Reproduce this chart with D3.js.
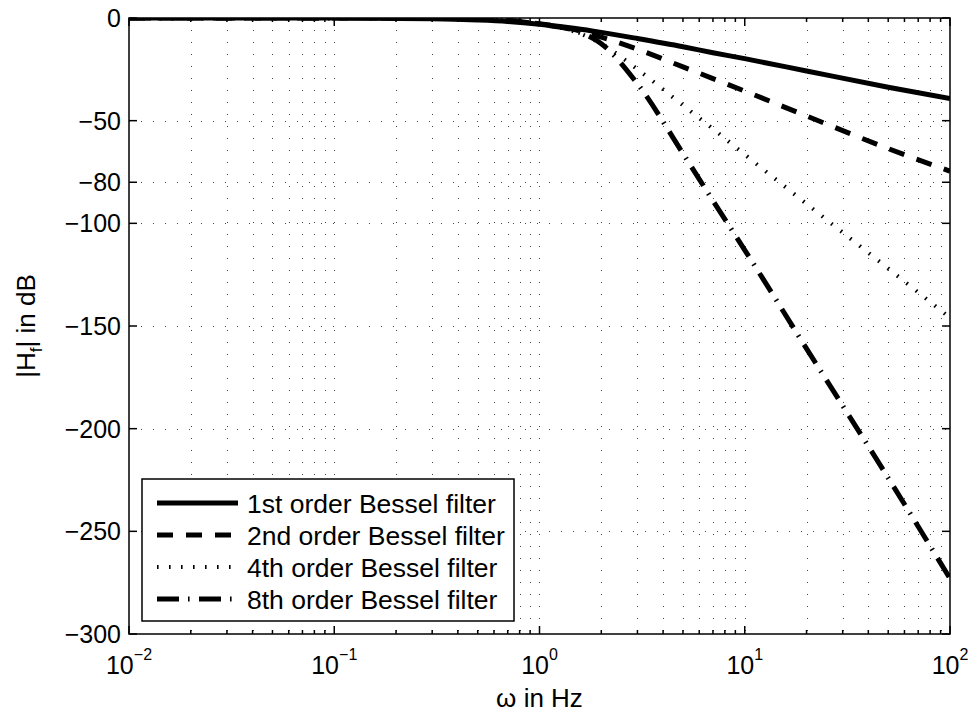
<!DOCTYPE html>
<html>
<head>
<meta charset="utf-8">
<script src="https://cdn.jsdelivr.net/npm/d3@7"></script>
<style>
    body { margin: 0; padding: 0; background: #fff; }
    svg { font-family: "Liberation Sans", Arial, Helvetica, sans-serif; }
</style>
</head>
<body>
<div id="chart"></div>
<script>
var freq   = [0.01, 0.1, 0.3, 0.5, 0.7, 1, 1.5, 2, 3, 5, 7, 10, 20, 50, 100];
// magnitude in dB
var order1 = [0, -0.04, -0.4, -1.0, -1.7, -3.0, -5.1, -7.0, -10.0, -14.0, -16.9, -19.8, -25.8, -33.7, -39.2];
var order2 = [0, -0.01, -0.15, -0.6, -1.3, -2.8, -5.8, -9.3, -15.2, -23.8, -29.5, -35.6, -47.7, -63.6, -74.6];
var order4 = [0, 0, -0.1, -0.5, -1.2, -3.0, -6.8, -12.5, -25.0, -42.5, -54.0, -66.5, -90.5, -122.0, -146.0];
var order8 = [0, 0, -0.05, -0.4, -1.1, -3.0, -6.3, -12.5, -32.0, -66.0, -89.0, -113.0, -161.0, -224.0, -273.0];

var seriesNames = ["1st order Bessel filter", "2nd order Bessel filter",
                   "4th order Bessel filter", "8th order Bessel filter"];
var yTicks = [0, -50, -80, -100, -150, -200, -250, -300];
var xTickExponents = [-2, -1, 0, 1, 2];

var W = 974, H = 715;
var PLOT = { left: 129, right: 950, top: 18, bottom: 634 };

var LINE_STYLES = [
    { width: 5, dash: null },
    { width: 5, dash: "16,13" },
    { width: 4, dash: "1.6,10.4" },
    { width: 5, dash: "22,9,1.6,9.4" }
];

var svg = d3.select("#chart").append("svg")
    .attr("width", W)
    .attr("height", H);

var x = d3.scaleLog().domain([1e-2, 1e2]).range([PLOT.left, PLOT.right]);
var y = d3.scaleLinear().domain([-300, 0]).range([PLOT.bottom, PLOT.top]);

// all log ticks (1..9 per decade)
var logTicks = x.ticks();
var isMajor = function(v) {
    var e = Math.log10(v);
    return Math.abs(e - Math.round(e)) < 1e-9;
};

// grid
var grid = svg.append("g").attr("stroke", "#444").attr("stroke-width", 1)
    .attr("stroke-dasharray", "1,11");
grid.selectAll("line.v")
    .data(logTicks.filter(function(d) { return d > 1e-2 && d < 1e2; }))
    .enter().append("line")
    .attr("x1", function(d) { return Math.round(x(d)) + 0.5; })
    .attr("x2", function(d) { return Math.round(x(d)) + 0.5; })
    .attr("y1", PLOT.top)
    .attr("y2", PLOT.bottom);
grid.selectAll("line.h")
    .data(yTicks.filter(function(d) { return d > -300 && d < 0; }))
    .enter().append("line")
    .attr("x1", PLOT.left)
    .attr("x2", PLOT.right)
    .attr("y1", function(d) { return Math.round(y(d)) + 0.5; })
    .attr("y2", function(d) { return Math.round(y(d)) + 0.5; });

// curves
svg.append("clipPath").attr("id", "clip").append("rect")
    .attr("x", PLOT.left).attr("y", PLOT.top)
    .attr("width", PLOT.right - PLOT.left).attr("height", PLOT.bottom - PLOT.top);

var series = [order1, order2, order4, order8];
var line = d3.line()
    .x(function(d) { return x(d[0]); })
    .y(function(d) { return y(d[1]); })
    .curve(d3.curveMonotoneX);

var curves = svg.append("g").attr("clip-path", "url(#clip)");
series.forEach(function(vals, i) {
    var pts = freq.map(function(f, k) { return [f, vals[k]]; });
    curves.append("path")
        .attr("d", line(pts))
        .attr("fill", "none")
        .attr("stroke", "#000")
        .attr("stroke-width", LINE_STYLES[i].width)
        .attr("stroke-dasharray", LINE_STYLES[i].dash);
});

// axes box and ticks
var axes = svg.append("g").attr("stroke", "#000").attr("stroke-width", 1.5);
axes.append("rect")
    .attr("x", PLOT.left).attr("y", PLOT.top)
    .attr("width", PLOT.right - PLOT.left).attr("height", PLOT.bottom - PLOT.top)
    .attr("fill", "none");

logTicks.forEach(function(t) {
    var len = isMajor(t) ? 8 : 4;
    var xx = x(t);
    axes.append("line").attr("x1", xx).attr("x2", xx)
        .attr("y1", PLOT.bottom).attr("y2", PLOT.bottom - len);
    axes.append("line").attr("x1", xx).attr("x2", xx)
        .attr("y1", PLOT.top).attr("y2", PLOT.top + len);
});
yTicks.forEach(function(t) {
    var yy = y(t);
    axes.append("line").attr("x1", PLOT.left).attr("x2", PLOT.left + 8)
        .attr("y1", yy).attr("y2", yy);
    axes.append("line").attr("x1", PLOT.right).attr("x2", PLOT.right - 8)
        .attr("y1", yy).attr("y2", yy);
});

// tick labels
svg.append("g").selectAll("text")
    .data(yTicks)
    .enter().append("text")
    .attr("x", PLOT.left - 8)
    .attr("y", function(d) { return y(d); })
    .attr("dy", "0.36em")
    .attr("text-anchor", "end")
    .attr("font-size", 25)
    .text(function(d) { return d < 0 ? "\u2212" + (-d) : d; });

var xl = svg.append("g").selectAll("text")
    .data(xTickExponents)
    .enter().append("text")
    .attr("x", function(d) { return x(Math.pow(10, d)); })
    .attr("y", 674)
    .attr("text-anchor", "middle")
    .attr("font-size", 25);
xl.append("tspan").text("10");
xl.append("tspan")
    .attr("dy", -14)
    .attr("font-size", 16)
    .text(function(d) { return d < 0 ? "\u2212" + (-d) : d; });

// axis titles
svg.append("text")
    .attr("x", (PLOT.left + PLOT.right) / 2)
    .attr("y", 707)
    .attr("text-anchor", "middle")
    .attr("font-size", 26)
    .text("\u03c9 in Hz");

var yt = svg.append("text")
    .attr("transform", "translate(35," + ((PLOT.top + PLOT.bottom) / 2) + ") rotate(-90)")
    .attr("text-anchor", "middle")
    .attr("font-size", 26);
yt.append("tspan").text("|H");
yt.append("tspan").attr("dy", 7).attr("font-size", 17).text("f");
yt.append("tspan").attr("dy", -7).text("| in dB");

// legend
var lg = svg.append("g");
lg.append("rect")
    .attr("x", 142).attr("y", 479)
    .attr("width", 372).attr("height", 142)
    .attr("fill", "#fff")
    .attr("stroke", "#000")
    .attr("stroke-width", 1.5);
seriesNames.forEach(function(name, i) {
    var ry = 503 + i * 32;
    lg.append("line")
        .attr("x1", 157).attr("x2", 238)
        .attr("y1", ry).attr("y2", ry)
        .attr("stroke", "#000")
        .attr("stroke-width", LINE_STYLES[i].width)
        .attr("stroke-dasharray", LINE_STYLES[i].dash);
    lg.append("text")
        .attr("x", 247).attr("y", ry)
        .attr("dy", "0.36em")
        .attr("font-size", 26.5)
        .text(name);
});
</script>
</body>
</html>
